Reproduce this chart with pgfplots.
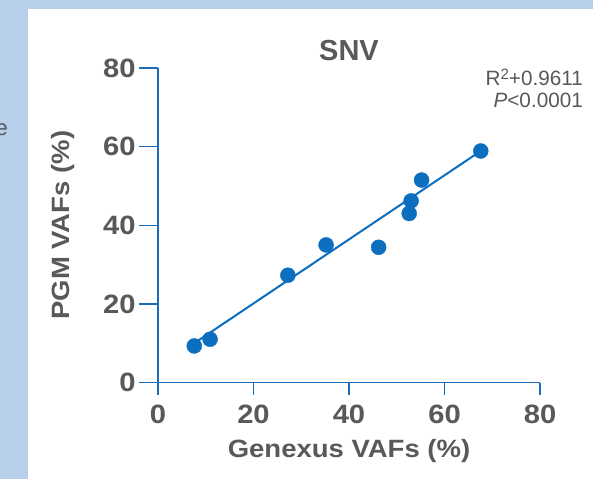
\documentclass[border=0pt]{standalone}
\usepackage{fontspec}
\setmainfont{Liberation Sans}
\newfontfamily\widefont{Liberation Sans}[FakeStretch=1.1]
\usepackage{pgfplots}
\pgfplotsset{compat=1.18}
\definecolor{bgblue}{HTML}{B7CFEB}
\definecolor{mainblue}{HTML}{0B6EBF}
\definecolor{axblue}{HTML}{1A6DB8}
\definecolor{textgray}{HTML}{595959}
\begin{document}
\begin{tikzpicture}
\path[use as bounding box] (0,0) rectangle (593pt,479pt);
\fill[bgblue] (0,0) rectangle (593pt,479pt);
\fill[white] (28pt,0) rectangle (593pt,470pt);
\node[anchor=base east, inner sep=0pt, text=textgray, font=\fontsize{22}{26}\selectfont] at (8pt,343pt) {e};
\begin{axis}[
  at={(158pt,96.5pt)}, anchor=south west,
  x=4.775pt, y=3.931pt,
  xmin=0, xmax=80, ymin=0, ymax=80,
  axis lines*=left,
  axis line style={axblue, line width=1.5pt},
  tick align=outside,
  xtick={0,20,40,60,80}, ytick={0,20,40,60,80},
  major tick length=19pt,
  xtick style={axblue, line width=1.5pt, /pgfplots/major tick length=12pt},
  ytick style={axblue, line width=1.5pt, /pgfplots/major tick length=19pt},
  /pgf/number format/assume math mode=true,
  tick label style={font=\widefont\bfseries\fontsize{26.5}{30}\selectfont, text=textgray},
  title={SNV},
  title style={font=\bfseries\fontsize{29}{33}\selectfont, text=textgray, anchor=base, at={(axis description cs:0.5,1.0064)}},
  xlabel={Genexus VAFs (\%)},
  xlabel style={font=\widefont\bfseries\fontsize{25}{30}\selectfont, text=textgray, anchor=base, at={(axis description cs:0.5,-0.240)}},
  ylabel={PGM VAFs (\%)},
  ylabel style={font=\widefont\bfseries\fontsize{25}{30}\selectfont, text=textgray, rotate=0, anchor=base, at={(axis description cs:-0.232,0.5)}},
  clip=false,
]
\addplot[mainblue, line width=2pt] coordinates {(7.6,10.0) (67.6,58.9)};
\addplot[only marks, mark=*, mark size=7.5pt, mainblue, mark options={draw=mainblue, fill=mainblue}] coordinates {
(7.6,9.3) (10.9,11.0) (27.2,27.3) (35.2,35.0) (46.2,34.4) (52.6,43.0) (53.0,46.2) (55.2,51.5) (67.6,58.9)
};
\end{axis}
\node[anchor=base east, inner sep=0pt, text=textgray, font=\fontsize{20.7}{24}\selectfont] at (583pt,393pt) {R\raisebox{0.55ex}{\fontsize{15}{16}\selectfont 2}+0.9611};
\node[anchor=base east, inner sep=0pt, text=textgray, font=\fontsize{20.7}{24}\selectfont] at (583pt,371pt) {\textit{P}<0.0001};
\end{tikzpicture}
\end{document}
